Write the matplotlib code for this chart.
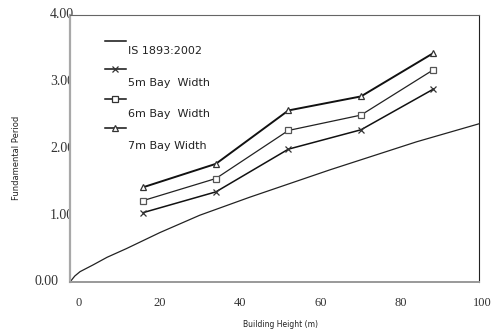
import matplotlib
matplotlib.use('Agg')
import matplotlib.pyplot as plt

# building heights (m) and fundamental periods (s)
heights = [16, 34, 52, 70, 88]
bay_5m = [1.04, 1.35, 1.99, 2.28, 2.89]
bay_6m = [1.22, 1.55, 2.27, 2.50, 3.18]
bay_7m = [1.42, 1.77, 2.57, 2.78, 3.43]

code_h = [-2.2, -1, 0.3, 3.5, 7, 11.8, 20.1, 30.0, 42.4, 62.3, 83.8, 99.3]
code_t = [0, 0.09, 0.155, 0.255, 0.37, 0.50, 0.74, 1.0, 1.27, 1.68, 2.10, 2.37]

x_ticks = [0, 20, 40, 60, 80, 100]
y_ticks = [0, 1, 2, 3, 4]
y_tick_labels = ['0.00', '1.00', '2.00', '3.00', '4.00']
legend_labels = ['IS 1893:2002', '5m Bay  Width', '6m Bay  Width', '7m Bay Width']

fig = plt.figure(figsize=(4.95, 3.33), dpi=100)
ax = fig.add_axes([0.1414, 0.1532, 0.8263, 0.8018])

ax.plot(code_h, code_t, color='#222222', lw=0.9)
ax.plot(heights, bay_5m, color='#111111', lw=1.1, marker='x', ms=5,
        mec='#333333', mew=0.9)
ax.plot(heights, bay_6m, color='#222222', lw=0.9, marker='s', ms=4.5,
        mfc='white', mec='#555555', mew=0.9)
ax.plot(heights, bay_7m, color='#111111', lw=1.4, marker='^', ms=4.5,
        mfc='white', mec='#333333', mew=0.9)

ax.set_xlim(-2.2, 99.3)
ax.set_ylim(0, 4)
ax.set_xticks([])
ax.set_yticks([])

ax.spines['left'].set_color('#a8a8a8')
ax.spines['left'].set_linewidth(1.6)
ax.spines['bottom'].set_color('#999999')
ax.spines['bottom'].set_linewidth(1.4)
ax.spines['top'].set_color('#666666')
ax.spines['right'].set_color('#222222')

# tick labels drawn behind the axes so the plot area hides part of them
for y, lab in zip(y_ticks, y_tick_labels):
    xpos = -0.027 if y == 0 else 0.010
    fig.text(xpos, y, lab, transform=ax.get_yaxis_transform(),
             ha='right', va='center', family='Liberation Serif',
             fontsize=10, color='#333333', zorder=-1)

for x in x_ticks:
    ax.text(x, -0.079, str(x), transform=ax.get_xaxis_transform(),
            ha='center', va='center', family='Liberation Serif',
            fontsize=9, color='#333333', clip_on=False)

fig.text(0.566, 0.027, 'Building Height (m)', ha='center', va='center',
         fontsize=5.5, color='#222222')
fig.text(0.034, 0.526, 'Fundamental Period', ha='center', va='center',
         rotation=90, fontsize=6, color='#222222')

# legend, line samples above their text as in the original
markers = [None, 'x', 's', '^']
sample_y = [0.9026, 0.7978, 0.6854, 0.5768]
text_y = [0.865, 0.745, 0.629, 0.509]
for m, sy, ty, lab in zip(markers, sample_y, text_y, legend_labels):
    ax.plot([0.0856, 0.137], [sy, sy], transform=ax.transAxes, color='#111111',
            lw=1.1, clip_on=False)
    if m is not None:
        ax.plot([0.111], [sy], transform=ax.transAxes, marker=m, ms=4.5,
                mfc='white', mec='#333333', mew=0.9, ls='none')
    ax.text(0.1418, ty, lab, transform=ax.transAxes, ha='left', va='center',
            fontsize=8, color='#222222')

fig.savefig('out.png', dpi=100)
